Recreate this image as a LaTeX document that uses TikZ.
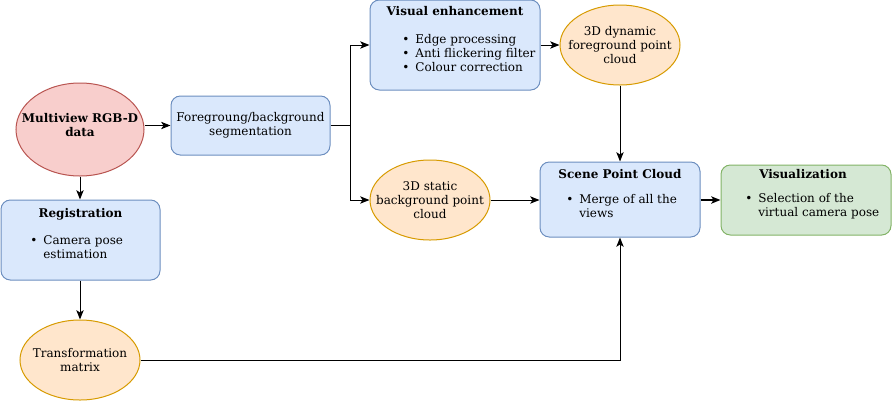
\documentclass[tikz,border=0pt]{standalone}
\usepackage{fontspec}
\setmainfont{DejaVu Serif}
\usetikzlibrary{arrows.meta,shapes.geometric}
\definecolor{blueF}{HTML}{DAE8FC}\definecolor{blueD}{HTML}{6C8EBF}
\definecolor{redF}{HTML}{F8CECC}\definecolor{redD}{HTML}{B85450}
\definecolor{orF}{HTML}{FFE6CC}\definecolor{orD}{HTML}{D79B00}
\definecolor{grF}{HTML}{D5E8D4}\definecolor{grD}{HTML}{82B366}
\newcommand\bl{\textbullet\hspace{4.5pt}}
\newcommand\bls{\hphantom{\textbullet\hspace{4.5pt}}}
\begin{document}
\begin{tikzpicture}[x=0.75pt,y=-0.75pt,
  every node/.style={font=\fontsize{9pt}{10.5pt}\selectfont},
  box/.style={draw=blueD,fill=blueF,rounded corners=7pt,line width=0.75pt,inner sep=0pt},
  gbox/.style={box,draw=grD,fill=grF},
  ell/.style={ellipse,draw=orD,fill=orF,line width=0.75pt,inner sep=0pt,minimum width=90pt,minimum height=60pt},
  txt/.style={inner sep=0pt,align=center},
  lst/.style={inner sep=0pt,align=left,anchor=west},
  ttl/.style={inner sep=0pt,font=\fontsize{9pt}{10.5pt}\selectfont\bfseries},
  arr/.style={line width=0.75pt,-{Stealth[length=7pt,width=5.5pt,inset=1.8pt]}},
  ln/.style={line width=0.75pt}]
\useasboundingbox (0,0) rectangle (892,401);
% nodes
\node[ellipse,draw=redD,fill=redF,line width=0.75pt,minimum width=96pt,minimum height=69.75pt,inner sep=0pt] (mv) at (80,129.5) {};
\node[ttl,align=center] (mvt) at (80,125) {Multiview RGB-D\\data};
\node[box,minimum width=119.25pt,minimum height=44.25pt,align=center] (fg) at (250.5,125.5) {Foregroung/background\\segmentation};
\node[box,minimum width=119.25pt,minimum height=60pt] (reg) at (80.5,240) {};
\node[ttl] (regt) at (80.5,214) {Registration};
\node[lst] (regl) at (30,247.5) {\bl Camera pose\\\bls estimation};
\node[ell] (tm) at (80,360) {};
\node[txt] (tmt) at (80,360) {Transformation\\matrix};
\node[box,minimum width=127.5pt,minimum height=67.5pt] (ve) at (455,45) {};
\node[ttl] (vet) at (455,11) {Visual enhancement};
\node[lst] (vel) at (402,53) {\bl Edge processing\\\bl Anti flickering filter\\\bl Colour correction};
\node[ell] (dy) at (620,45) {};
\node[txt] (dyt) at (620,45) {3D dynamic\\foreground point\\cloud};
\node[ell] (st) at (430,200) {};
\node[txt] (stt) at (430,200) {3D static\\background point\\cloud};
\node[box,minimum width=120pt,minimum height=56.25pt] (sc) at (620,199.5) {};
\node[ttl] (sct) at (620,174) {Scene Point Cloud};
\node[lst] (scl) at (566,206.5) {\bl Merge of all the\\\bls views};
\node[gbox,minimum width=127.5pt,minimum height=52.5pt] (vis) at (806,200) {};
\node[ttl] (vist) at (803,174) {Visualization};
\node[lst] (visl) at (745,206.5) {\bl Selection of the\\\bls virtual camera pose};
% connectors
\coordinate (sp) at (350,125.5);
\draw[arr] (mv.east |- fg.west) -- (fg.west);
\draw[ln] (fg.east) -- (sp);
\draw[arr] (sp) |- (ve.west);
\draw[arr] (sp) |- (st.west);
\draw[arr] (ve.east) -- (dy.west);
\draw[arr] (dy.south) -- (dy.south |- sc.north);
\draw[arr] (st.east) -- (sc.west |- st.east);
\draw[arr,line width=1.2pt] (sc.east |- vis.west) -- (vis.west);
\draw[arr] (mv.south) -- (mv.south |- reg.north);
\draw[arr] (reg.south -| tm.north) -- (tm.north);
\draw[arr] (tm.east) -| (sc.south);
\end{tikzpicture}
\end{document}
